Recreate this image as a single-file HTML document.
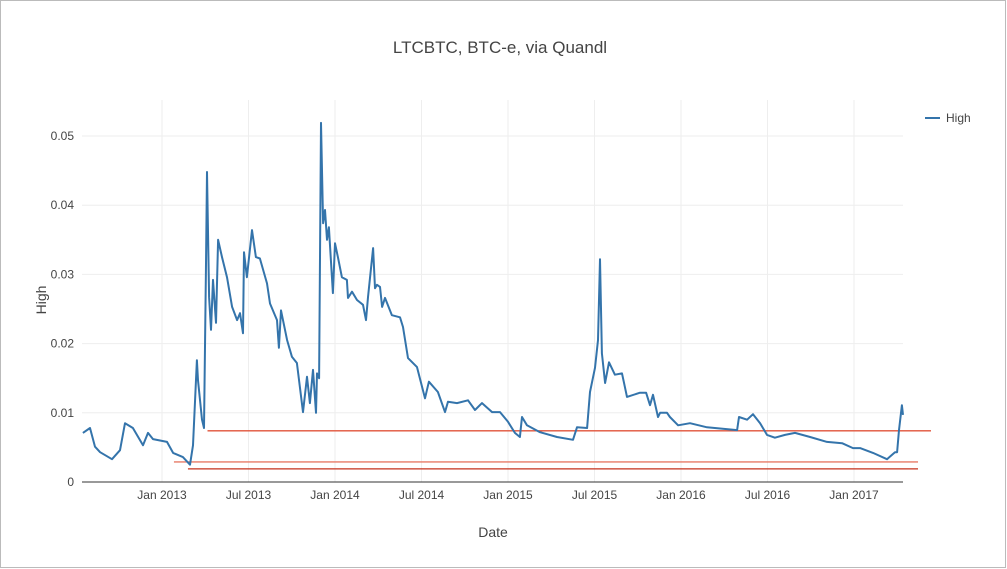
<!DOCTYPE html>
<html><head><meta charset="utf-8"><style>
html,body{margin:0;padding:0;background:#fff}
svg{display:block;font-family:"Liberation Sans",sans-serif}
</style></head><body>
<svg id="c" width="1007" height="569">
<rect x="0.5" y="0.5" width="1005" height="567" fill="#fff" stroke="#bbb"/>
<text x="500" y="53" text-anchor="middle" font-size="17" fill="#444">LTCBTC, BTC-e, via Quandl</text>
<g id="grid"></g>
<g id="ticks"></g>
<g id="refs"></g>
<path id="line" fill="none" stroke="#3474ab" stroke-width="2" stroke-linejoin="round"/>
<line x1="82" y1="482" x2="903" y2="482" stroke="#333" stroke-width="1"/>
<text x="46" y="300" text-anchor="middle" font-size="14" fill="#444" transform="rotate(-90 46 300)">High</text>
<text x="493" y="537" text-anchor="middle" font-size="14" fill="#444">Date</text>
<g>
<line x1="925" y1="118" x2="940" y2="118" stroke="#3474ab" stroke-width="2"/>
<text x="946" y="122" font-size="12" fill="#444">High</text>
</g>
</svg>
<script>
const dates=[2012.543,2012.584,2012.613,2012.642,2012.711,2012.757,2012.786,2012.832,2012.890,2012.919,2012.948,2013.029,2013.064,2013.121,2013.162,2013.179,2013.202,2013.208,2013.231,2013.243,2013.254,2013.260,2013.272,2013.283,2013.295,2013.312,2013.324,2013.347,2013.376,2013.405,2013.434,2013.451,2013.468,2013.474,2013.491,2013.520,2013.543,2013.566,2013.607,2013.624,2013.665,2013.676,2013.688,2013.723,2013.751,2013.780,2013.815,2013.838,2013.855,2013.873,2013.890,2013.896,2013.908,2013.919,2013.931,2013.942,2013.954,2013.965,2013.988,2014.000,2014.017,2014.040,2014.069,2014.075,2014.098,2014.127,2014.162,2014.179,2014.191,2014.220,2014.231,2014.243,2014.260,2014.272,2014.289,2014.329,2014.376,2014.393,2014.422,2014.474,2014.520,2014.543,2014.595,2014.636,2014.653,2014.705,2014.769,2014.809,2014.850,2014.908,2014.954,2015.000,2015.040,2015.069,2015.081,2015.110,2015.185,2015.283,2015.376,2015.399,2015.457,2015.474,2015.503,2015.520,2015.532,2015.543,2015.561,2015.584,2015.618,2015.659,2015.688,2015.763,2015.798,2015.821,2015.838,2015.867,2015.879,2015.919,2015.936,2015.983,2016.052,2016.150,2016.324,2016.335,2016.382,2016.416,2016.457,2016.497,2016.543,2016.601,2016.659,2016.746,2016.844,2016.931,2016.994,2017.035,2017.110,2017.191,2017.237,2017.249,2017.260,2017.277,2017.283];
const highs=[0.0071,0.0078,0.0051,0.0043,0.0033,0.0046,0.0085,0.0078,0.0053,0.0071,0.0062,0.0058,0.0042,0.0036,0.0025,0.0053,0.0176,0.0147,0.0090,0.0078,0.0302,0.0448,0.0267,0.0220,0.0292,0.0230,0.0350,0.0325,0.0296,0.0253,0.0234,0.0244,0.0215,0.0332,0.0296,0.0364,0.0325,0.0323,0.0287,0.0258,0.0234,0.0194,0.0248,0.0205,0.0181,0.0172,0.0101,0.0152,0.0114,0.0162,0.0100,0.0157,0.0150,0.0519,0.0374,0.0393,0.0350,0.0368,0.0273,0.0345,0.0325,0.0296,0.0292,0.0266,0.0275,0.0263,0.0256,0.0234,0.0267,0.0338,0.0280,0.0285,0.0282,0.0253,0.0266,0.0241,0.0238,0.0224,0.0179,0.0166,0.0121,0.0145,0.0130,0.0101,0.0116,0.0114,0.0118,0.0104,0.0114,0.0101,0.0101,0.0087,0.0071,0.0065,0.0094,0.0082,0.0072,0.0065,0.0061,0.0079,0.0078,0.0130,0.0165,0.0205,0.0322,0.0186,0.0143,0.0173,0.0155,0.0157,0.0123,0.0129,0.0129,0.0111,0.0126,0.0094,0.0100,0.0100,0.0094,0.0082,0.0085,0.0079,0.0075,0.0094,0.0090,0.0098,0.0085,0.0068,0.0064,0.0068,0.0071,0.0065,0.0058,0.0056,0.0049,0.0049,0.0042,0.0033,0.0043,0.0043,0.0075,0.0111,0.0097];
const yTicks=[0,0.01,0.02,0.03,0.04,0.05];
const yTickLabels=["0","0.01","0.02","0.03","0.04","0.05"];
const xTicks=[2013,2013.5,2014,2014.5,2015,2015.5,2016,2016.5,2017];
const xTickLabels=["Jan 2013","Jul 2013","Jan 2014","Jul 2014","Jan 2015","Jul 2015","Jan 2016","Jul 2016","Jan 2017"];
const refLevels=[0.0074,0.0029,0.0019];
const refStarts=[2013.263,2013.069,2013.150];
const refEnds=[2017.445,2017.370,2017.370];
const refColors=["#e0533a","#e77a66","#c6301c"];

const X=v=>162+(v-2013)*173;
const Y=v=>482-v*6920;
const ns="http://www.w3.org/2000/svg";
function mk(tag,attrs,parent){const e=document.createElementNS(ns,tag);for(const k in attrs)e.setAttribute(k,attrs[k]);parent.appendChild(e);return e;}
const grid=document.getElementById('grid'),ticks=document.getElementById('ticks'),refs=document.getElementById('refs');
yTicks.forEach((t,i)=>{
  if(t>0){const g=mk('line',{x1:82,x2:903,y1:Y(t),y2:Y(t),stroke:'#eee'},grid);
  
  }
  const l=mk('text',{x:74,y:Y(t)+4,'text-anchor':'end','font-size':12,fill:'#444'},ticks);
  l.textContent=yTickLabels[i];
  
  
});
xTicks.forEach((t,i)=>{
  const g=mk('line',{x1:X(t),x2:X(t),y1:100,y2:482,stroke:'#eee'},grid);
  
  
  const l=mk('text',{x:X(t),y:499,'text-anchor':'middle','font-size':12,fill:'#444'},ticks);
  l.textContent=xTickLabels[i];
  
  
});
refLevels.forEach((v,i)=>{
  const r=mk('line',{x1:X(refStarts[i]),x2:X(refEnds[i]),y1:Y(v),y2:Y(v),stroke:refColors[i],'stroke-width':1.3},refs);
  
  
});
document.getElementById('line').setAttribute('d',dates.map((d,i)=>(i?'L':'M')+X(d).toFixed(1)+','+Y(highs[i]).toFixed(1)).join(''));
</script>
</body></html>
